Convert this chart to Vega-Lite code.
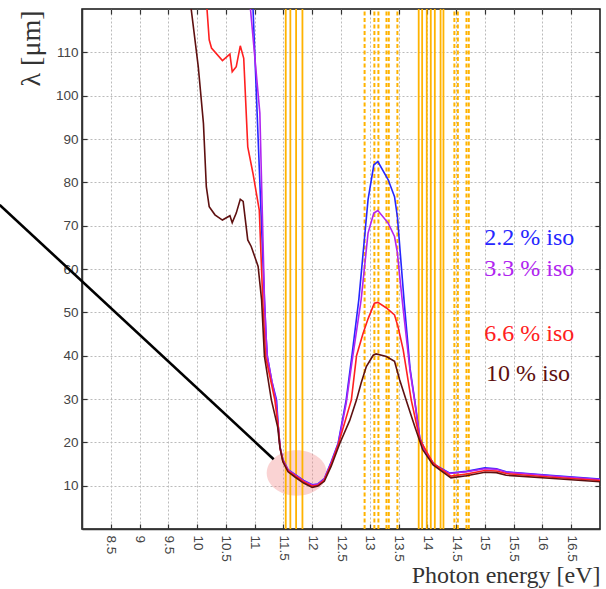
{
  "$schema": "https://vega.github.io/schema/vega-lite/v6.json",
  "width": 518,
  "height": 520,
  "autosize": {"type": "none"},
  "padding": {"left": 82, "top": 9, "right": 6, "bottom": 60},
  "background": "white",
  "config": {
    "view": {"stroke": "#111", "strokeWidth": 1.5},
    "axis": {
      "labelFont": "Liberation Sans",
      "labelFontSize": 13.5,
      "labelColor": "#444",
      "domainColor": "#333",
      "domainWidth": 1.5,
      "tickColor": "#333",
      "tickWidth": 1.2,
      "gridColor": "#bbbbbb",
      "gridDash": [2, 2],
      "gridWidth": 1,
      "titleFont": "Liberation Serif",
      "titleFontWeight": "normal",
      "titleFontSize": 24,
      "titleColor": "#333",
      "titleLimit": 1000
    }
  },
  "datasets": {
    "curves": [
      {"series": "2.2", "e": 10.96, "lam": 124}, {"series": "2.2", "e": 11.17, "lam": 52.9}, {"series": "2.2", "e": 11.20, "lam": 44}, {"series": "2.2", "e": 11.22, "lam": 39.8}, {"series": "2.2", "e": 11.30, "lam": 34}, {"series": "2.2", "e": 11.38, "lam": 29.8}, {"series": "2.2", "e": 11.41, "lam": 23.7}, {"series": "2.2", "e": 11.44, "lam": 19}, {"series": "2.2", "e": 11.49, "lam": 16}, {"series": "2.2", "e": 11.58, "lam": 13.7}, {"series": "2.2", "e": 11.7, "lam": 12.6}, {"series": "2.2", "e": 11.85, "lam": 11.2}, {"series": "2.2", "e": 12.0, "lam": 10.2}, {"series": "2.2", "e": 12.1, "lam": 10.4}, {"series": "2.2", "e": 12.21, "lam": 11.6}, {"series": "2.2", "e": 12.33, "lam": 15.5}, {"series": "2.2", "e": 12.45, "lam": 19.8}, {"series": "2.2", "e": 12.59, "lam": 29.8}, {"series": "2.2", "e": 12.69, "lam": 40}, {"series": "2.2", "e": 12.81, "lam": 53}, {"series": "2.2", "e": 12.97, "lam": 76}, {"series": "2.2", "e": 13.07, "lam": 84}, {"series": "2.2", "e": 13.14, "lam": 84.8}, {"series": "2.2", "e": 13.32, "lam": 80.6}, {"series": "2.2", "e": 13.43, "lam": 76.7}, {"series": "2.2", "e": 13.48, "lam": 72}, {"series": "2.2", "e": 13.6, "lam": 52}, {"series": "2.2", "e": 13.7, "lam": 37}, {"series": "2.2", "e": 13.78, "lam": 29.8}, {"series": "2.2", "e": 13.87, "lam": 21}, {"series": "2.2", "e": 13.98, "lam": 17.5}, {"series": "2.2", "e": 14.10, "lam": 15.3}, {"series": "2.2", "e": 14.16, "lam": 14.6}, {"series": "2.2", "e": 14.39, "lam": 12.9}, {"series": "2.2", "e": 14.68, "lam": 13.3}, {"series": "2.2", "e": 15.0, "lam": 14.1}, {"series": "2.2", "e": 15.2, "lam": 13.9}, {"series": "2.2", "e": 15.37, "lam": 13.2}, {"series": "2.2", "e": 16.12, "lam": 12.4}, {"series": "2.2", "e": 17.0, "lam": 11.5},
      {"series": "3.3", "e": 10.90, "lam": 124}, {"series": "3.3", "e": 11.09, "lam": 96}, {"series": "3.3", "e": 11.17, "lam": 53}, {"series": "3.3", "e": 11.20, "lam": 44}, {"series": "3.3", "e": 11.22, "lam": 39.8}, {"series": "3.3", "e": 11.30, "lam": 34}, {"series": "3.3", "e": 11.37, "lam": 29.6}, {"series": "3.3", "e": 11.41, "lam": 23.6}, {"series": "3.3", "e": 11.44, "lam": 18.9}, {"series": "3.3", "e": 11.49, "lam": 15.9}, {"series": "3.3", "e": 11.58, "lam": 13.6}, {"series": "3.3", "e": 11.7, "lam": 12.5}, {"series": "3.3", "e": 11.85, "lam": 11.1}, {"series": "3.3", "e": 12.0, "lam": 10.1}, {"series": "3.3", "e": 12.1, "lam": 10.3}, {"series": "3.3", "e": 12.21, "lam": 11.5}, {"series": "3.3", "e": 12.33, "lam": 15.3}, {"series": "3.3", "e": 12.45, "lam": 19.5}, {"series": "3.3", "e": 12.59, "lam": 29}, {"series": "3.3", "e": 12.69, "lam": 38.5}, {"series": "3.3", "e": 12.85, "lam": 52.9}, {"series": "3.3", "e": 12.97, "lam": 68.3}, {"series": "3.3", "e": 13.07, "lam": 72.9}, {"series": "3.3", "e": 13.14, "lam": 73.5}, {"series": "3.3", "e": 13.32, "lam": 70.6}, {"series": "3.3", "e": 13.43, "lam": 67.5}, {"series": "3.3", "e": 13.48, "lam": 63.7}, {"series": "3.3", "e": 13.52, "lam": 58.3}, {"series": "3.3", "e": 13.57, "lam": 52}, {"series": "3.3", "e": 13.7, "lam": 36.5}, {"series": "3.3", "e": 13.78, "lam": 29.5}, {"series": "3.3", "e": 13.87, "lam": 20.8}, {"series": "3.3", "e": 13.98, "lam": 17.3}, {"series": "3.3", "e": 14.10, "lam": 15.1}, {"series": "3.3", "e": 14.16, "lam": 14.4}, {"series": "3.3", "e": 14.39, "lam": 12.8}, {"series": "3.3", "e": 14.68, "lam": 13.2}, {"series": "3.3", "e": 15.0, "lam": 13.9}, {"series": "3.3", "e": 15.2, "lam": 13.8}, {"series": "3.3", "e": 15.37, "lam": 13.1}, {"series": "3.3", "e": 16.12, "lam": 12.3}, {"series": "3.3", "e": 17.0, "lam": 11.4},
      {"series": "6.6", "e": 10.15, "lam": 124}, {"series": "6.6", "e": 10.21, "lam": 112.9}, {"series": "6.6", "e": 10.25, "lam": 111}, {"series": "6.6", "e": 10.44, "lam": 108.1}, {"series": "6.6", "e": 10.57, "lam": 109.6}, {"series": "6.6", "e": 10.61, "lam": 105.5}, {"series": "6.6", "e": 10.68, "lam": 106.7}, {"series": "6.6", "e": 10.75, "lam": 111.5}, {"series": "6.6", "e": 10.81, "lam": 108.6}, {"series": "6.6", "e": 10.88, "lam": 88.2}, {"series": "6.6", "e": 10.97, "lam": 82.1}, {"series": "6.6", "e": 11.08, "lam": 73.6}, {"series": "6.6", "e": 11.14, "lam": 52.9}, {"series": "6.6", "e": 11.19, "lam": 39.8}, {"series": "6.6", "e": 11.35, "lam": 29.8}, {"series": "6.6", "e": 11.41, "lam": 23.5}, {"series": "6.6", "e": 11.44, "lam": 18.8}, {"series": "6.6", "e": 11.49, "lam": 15.7}, {"series": "6.6", "e": 11.58, "lam": 13.4}, {"series": "6.6", "e": 11.7, "lam": 12.3}, {"series": "6.6", "e": 11.85, "lam": 10.9}, {"series": "6.6", "e": 12.0, "lam": 9.9}, {"series": "6.6", "e": 12.1, "lam": 10.1}, {"series": "6.6", "e": 12.21, "lam": 11.3}, {"series": "6.6", "e": 12.33, "lam": 15}, {"series": "6.6", "e": 12.45, "lam": 19.4}, {"series": "6.6", "e": 12.68, "lam": 29.8}, {"series": "6.6", "e": 12.77, "lam": 40}, {"series": "6.6", "e": 12.88, "lam": 45}, {"series": "6.6", "e": 12.97, "lam": 48.5}, {"series": "6.6", "e": 13.08, "lam": 52.1}, {"series": "6.6", "e": 13.14, "lam": 52.3}, {"series": "6.6", "e": 13.29, "lam": 51}, {"series": "6.6", "e": 13.43, "lam": 49.4}, {"series": "6.6", "e": 13.49, "lam": 46.7}, {"series": "6.6", "e": 13.58, "lam": 41.4}, {"series": "6.6", "e": 13.72, "lam": 29.8}, {"series": "6.6", "e": 13.87, "lam": 20.6}, {"series": "6.6", "e": 14.10, "lam": 15.2}, {"series": "6.6", "e": 14.41, "lam": 12.2}, {"series": "6.6", "e": 14.68, "lam": 12.7}, {"series": "6.6", "e": 15.0, "lam": 13.5}, {"series": "6.6", "e": 15.2, "lam": 13.4}, {"series": "6.6", "e": 15.37, "lam": 12.8}, {"series": "6.6", "e": 16.12, "lam": 12.0}, {"series": "6.6", "e": 17.0, "lam": 11.2},
      {"series": "10", "e": 9.86, "lam": 124}, {"series": "10", "e": 10.02, "lam": 106.7}, {"series": "10", "e": 10.11, "lam": 93.6}, {"series": "10", "e": 10.16, "lam": 79}, {"series": "10", "e": 10.21, "lam": 74.4}, {"series": "10", "e": 10.31, "lam": 72.5}, {"series": "10", "e": 10.44, "lam": 71.3}, {"series": "10", "e": 10.57, "lam": 72.3}, {"series": "10", "e": 10.61, "lam": 70.7}, {"series": "10", "e": 10.68, "lam": 72.9}, {"series": "10", "e": 10.75, "lam": 76.1}, {"series": "10", "e": 10.80, "lam": 75.6}, {"series": "10", "e": 10.88, "lam": 66.7}, {"series": "10", "e": 10.94, "lam": 65.2}, {"series": "10", "e": 11.06, "lam": 60.6}, {"series": "10", "e": 11.12, "lam": 52.9}, {"series": "10", "e": 11.17, "lam": 39.8}, {"series": "10", "e": 11.29, "lam": 29.8}, {"series": "10", "e": 11.40, "lam": 23.5}, {"series": "10", "e": 11.44, "lam": 18.7}, {"series": "10", "e": 11.49, "lam": 15.5}, {"series": "10", "e": 11.58, "lam": 13.2}, {"series": "10", "e": 11.7, "lam": 12.0}, {"series": "10", "e": 11.85, "lam": 10.6}, {"series": "10", "e": 12.0, "lam": 9.6}, {"series": "10", "e": 12.1, "lam": 9.9}, {"series": "10", "e": 12.21, "lam": 11.0}, {"series": "10", "e": 12.33, "lam": 14.5}, {"series": "10", "e": 12.48, "lam": 19.8}, {"series": "10", "e": 12.65, "lam": 25}, {"series": "10", "e": 12.77, "lam": 29.8}, {"series": "10", "e": 12.85, "lam": 33.7}, {"series": "10", "e": 12.94, "lam": 37.5}, {"series": "10", "e": 13.06, "lam": 40.1}, {"series": "10", "e": 13.11, "lam": 40.4}, {"series": "10", "e": 13.29, "lam": 39.8}, {"series": "10", "e": 13.43, "lam": 38.7}, {"series": "10", "e": 13.52, "lam": 34.4}, {"series": "10", "e": 13.63, "lam": 29.8}, {"series": "10", "e": 13.78, "lam": 23.7}, {"series": "10", "e": 13.92, "lam": 18.3}, {"series": "10", "e": 14.10, "lam": 14.8}, {"series": "10", "e": 14.41, "lam": 11.8}, {"series": "10", "e": 14.68, "lam": 12.3}, {"series": "10", "e": 15.0, "lam": 13.1}, {"series": "10", "e": 15.2, "lam": 13.0}, {"series": "10", "e": 15.37, "lam": 12.4}, {"series": "10", "e": 16.12, "lam": 11.7}, {"series": "10", "e": 17.0, "lam": 10.9}
    ],
    "solid": [
      {"e": 11.54}, {"e": 11.62}, {"e": 11.72}, {"e": 11.83},
      {"e": 13.85}, {"e": 13.91}, {"e": 13.99}, {"e": 14.06}, {"e": 14.13}, {"e": 14.23}, {"e": 14.28}
    ],
    "dashed": [
      {"e": 12.91}, {"e": 13.08}, {"e": 13.15}, {"e": 13.29}, {"e": 13.33}, {"e": 13.48},
      {"e": 14.47}, {"e": 14.53}, {"e": 14.68}, {"e": 14.72}
    ],
    "pointer": [
      {"e": 6.57, "lam": 74.8}, {"e": 11.33, "lam": 16.1}
    ],
    "highlight": [
      {"e": 11.73, "lam": 12.94}
    ],
    "labels": [
      {"series": "2.2", "text": "2.2 % iso", "e": 14.99, "lam": 65.6},
      {"series": "3.3", "text": "3.3 % iso", "e": 14.99, "lam": 58.3},
      {"series": "6.6", "text": "6.6 % iso", "e": 14.99, "lam": 43.3},
      {"series": "10", "text": "10 % iso", "e": 15.02, "lam": 34.1}
    ]
  },
  "layer": [
    {
      "data": {"name": "highlight"},
      "mark": {"type": "point", "filled": true, "shape": "M -1 0 A 1 0.757 0 1 0 1 0 A 1 0.757 0 1 0 -1 0 Z", "size": 3600, "color": "#f08080", "opacity": 0.35, "strokeWidth": 0},
      "encoding": {
        "x": {"field": "e", "type": "quantitative", "scale": {"domain": [8, 17], "nice": false, "zero": false},
          "axis": {"orient": "bottom", "values": [8.5, 9, 9.5, 10, 10.5, 11, 11.5, 12, 12.5, 13, 13.5, 14, 14.5, 15, 15.5, 16, 16.5], "format": "~g", "labelAngle": 90, "labelAlign": "left", "labelBaseline": "middle", "tickSize": -5, "labelPadding": 11, "grid": true, "title": "Photon energy [eV]", "titleFont": "Liberation Serif", "titleFontSize": 24, "titleAnchor": "end", "titleAlign": "right", "titleX": 518, "titleY": 53, "titleBaseline": "alphabetic"}},
        "y": {"field": "lam", "type": "quantitative", "scale": {"domain": [0, 120], "nice": false, "zero": false},
          "axis": {"orient": "left", "values": [10, 20, 30, 40, 50, 60, 70, 80, 90, 100, 110], "tickSize": -5, "labelPadding": 9, "grid": true, "title": "λ [μm]", "titleFont": "Liberation Serif", "titleFontSize": 28, "titleLimit": 1000, "titleAngle": -90, "titleAnchor": "end", "titleAlign": "right", "titleBaseline": "middle", "titleX": -51, "titleY": 1}}
      }
    },
    {
      "data": {"name": "solid"},
      "mark": {"type": "rule", "color": "#FFB300", "strokeWidth": 1.8},
      "encoding": {
        "x": {"field": "e", "type": "quantitative", "scale": {"domain": [8, 17], "nice": false, "zero": false},
          "axis": {"orient": "top", "values": [8.5, 9, 9.5, 10, 10.5, 11, 11.5, 12, 12.5, 13, 13.5, 14, 14.5, 15, 15.5, 16, 16.5], "labels": false, "tickSize": -5, "grid": false, "domain": false, "title": null}}
      }
    },
    {
      "data": {"name": "dashed"},
      "mark": {"type": "rule", "color": "#FFB300", "strokeWidth": 2, "strokeDash": [4, 2.5]},
      "encoding": {
        "x": {"field": "e", "type": "quantitative", "scale": {"domain": [8, 17], "nice": false, "zero": false}, "axis": null},
        "y": {"datum": 0, "type": "quantitative", "scale": {"domain": [0, 120], "nice": false, "zero": false},
          "axis": {"orient": "right", "values": [10, 20, 30, 40, 50, 60, 70, 80, 90, 100, 110], "labels": false, "tickSize": -5, "grid": false, "domain": false, "title": null}},
        "y2": {"datum": 120}
      }
    },
    {
      "data": {"name": "curves"},
      "mark": {"type": "line", "strokeWidth": 1.6, "clip": true},
      "encoding": {
        "x": {"field": "e", "type": "quantitative", "scale": {"domain": [8, 17], "nice": false, "zero": false}, "axis": null},
        "y": {"field": "lam", "type": "quantitative", "scale": {"domain": [0, 120], "nice": false, "zero": false}, "axis": null},
        "color": {"field": "series", "type": "nominal", "scale": {"domain": ["2.2", "3.3", "6.6", "10"], "range": ["#2626ff", "#b024f0", "#ff2020", "#5e1010"]}, "legend": null},
        "order": {"field": "e", "type": "quantitative"}
      }
    },
    {
      "data": {"name": "pointer"},
      "mark": {"type": "line", "color": "#000", "strokeWidth": 2.6, "clip": false},
      "encoding": {
        "x": {"field": "e", "type": "quantitative", "scale": {"domain": [8, 17], "nice": false, "zero": false}, "axis": null},
        "y": {"field": "lam", "type": "quantitative", "scale": {"domain": [0, 120], "nice": false, "zero": false}, "axis": null}
      }
    },
    {
      "data": {"name": "labels"},
      "mark": {"type": "text", "font": "Liberation Serif", "fontSize": 24, "align": "left", "baseline": "alphabetic"},
      "encoding": {
        "x": {"field": "e", "type": "quantitative", "scale": {"domain": [8, 17], "nice": false, "zero": false}, "axis": null},
        "y": {"field": "lam", "type": "quantitative", "scale": {"domain": [0, 120], "nice": false, "zero": false}, "axis": null},
        "text": {"field": "text"},
        "color": {"field": "series", "type": "nominal", "scale": {"domain": ["2.2", "3.3", "6.6", "10"], "range": ["#2626ff", "#b024f0", "#ff2020", "#5e1010"]}, "legend": null}
      }
    }
  ],
  "resolve": {"axis": {"x": "independent", "y": "independent"}}
}
